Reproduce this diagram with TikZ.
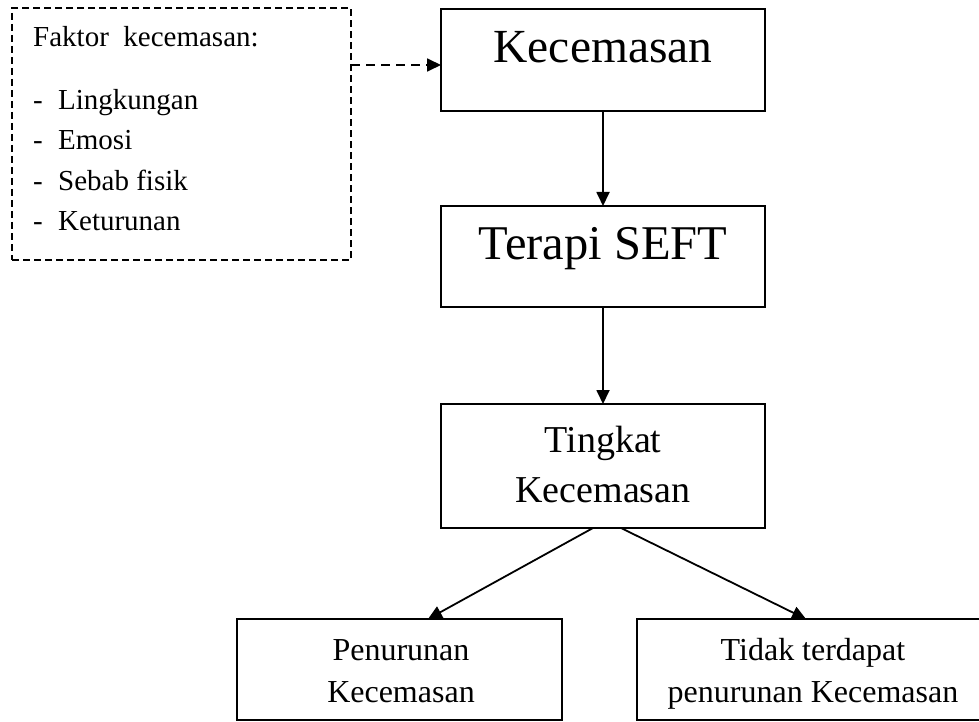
\documentclass[tikz,border=0pt]{standalone}
\usepackage{fontspec}
\setmainfont{Liberation Serif}
\usetikzlibrary{arrows.meta,calc}
\begin{document}
\begin{tikzpicture}[x=1pt,y=-1pt,
  box/.style={draw, line width=1.8pt, inner sep=0pt, outer sep=0pt},
  dbox/.style={draw, line width=1.5pt, dash pattern=on 7pt off 4pt, inner sep=0pt, outer sep=0pt},
  conn/.style={line width=1.8pt, -{Triangle[length=14pt,width=13pt]}},
  txt/.style={inner sep=0pt, anchor=base},
  ltxt/.style={inner sep=0pt, anchor=base west},
  fsmall/.style={font=\fontsize{29}{35}\selectfont},
  fbig/.style={font=\fontsize{47.5}{56}\selectfont},
  fter/.style={font=\fontsize{48.5}{56}\selectfont},
  fmid/.style={font=\fontsize{38}{46}\selectfont},
  fbot/.style={font=\fontsize{32}{40}\selectfont},
]
\useasboundingbox (0,0) rectangle (979,722);

% boxes
\node[dbox, minimum width=339pt, minimum height=252pt] (fak) at (181.5,134) {};
\node[box, minimum width=324pt, minimum height=102pt] (kec) at (603,60) {};
\node[box, minimum width=324pt, minimum height=101pt] (ter) at (603,256.5) {};
\node[box, minimum width=324pt, minimum height=124pt] (tin) at (603,466) {};
\node[box, minimum width=325pt, minimum height=101pt] (pen) at (399.5,669.5) {};
\node[box, minimum width=352pt, minimum height=101pt] (tid) at (813,669.5) {};

% texts
\node[ltxt, fsmall] (f0) at (33,47) {Faktor~ kecemasan:};
\node[ltxt, fsmall] (f1) at (33,110) {\makebox[25pt][l]{-}Lingkungan};
\node[ltxt, fsmall] (f2) at (33,150) {\makebox[25pt][l]{-}Emosi};
\node[ltxt, fsmall] (f3) at (33,190) {\makebox[25pt][l]{-}Sebab fisik};
\node[ltxt, fsmall] (f4) at (33,230) {\makebox[25pt][l]{-}Keturunan};

\node[txt, fbig] (kect) at (603,63) {Kecemasan};
\node[txt, fter] (tert) at (603,259) {Terapi SEFT};
\node[txt, fmid] (tin1) at (603,452) {Tingkat};
\node[txt, fmid] (tin2) at (603,502) {Kecemasan};
\node[txt, fbot] (pen1) at (401,660) {Penurunan};
\node[txt, fbot] (pen2) at (401,702) {Kecemasan};
\node[txt, fbot] (tid1) at (813,660) {Tidak terdapat};
\node[txt, fbot] (tid2) at (813,702) {penurunan Kecemasan};

% connectors
\draw[conn, dash pattern=on 9pt off 6pt] ($(fak.east |- kec.west)+(0,5)$) -- ($(kec.west)+(0,5)$);
\draw[conn] (kec.south) -- (ter.north);
\draw[conn] (ter.south) -- (tin.north);
\draw[conn] ($(tin.south)+(-10,0)$) -- ($(pen.north)+(28.5,0)$);
\draw[conn] ($(tin.south)+(18,0)$) -- ($(tid.north)+(-7,0)$);
\end{tikzpicture}
\end{document}
